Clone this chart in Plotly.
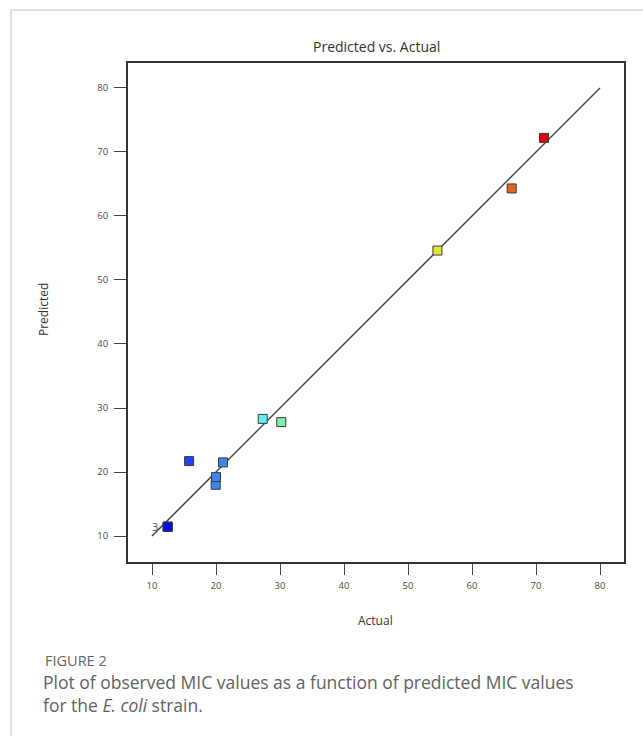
import plotly.graph_objects as go

# Observed (actual) vs model-predicted MIC values for E. coli
actual = [12.45, 12.45, 12.45, 15.8, 19.95, 20.0, 21.1, 27.3, 30.2, 54.6, 66.2, 71.25]
predicted = [11.45, 11.45, 11.45, 21.7, 18.0, 19.2, 21.5, 28.3, 27.8, 54.6, 64.3, 72.2]
tick_values = [10, 20, 30, 40, 50, 60, 70, 80]
ref_line = [10, 80]

# point colours graded from low (blue) to high (red) actual value
point_colors = ["#0a0ae6", "#0a0ae6", "#0a0ae6", "#2244ea", "#3f86ec", "#3f86ec",
                "#3f86ec", "#62f0f0", "#80eeae", "#dce834", "#e8641e", "#de0000"]

W, H = 643, 736
left, right, top, bottom = 128, 624, 63, 562

fig = go.Figure()

fig.add_trace(go.Scatter(
    x=ref_line, y=ref_line, mode="lines",
    line=dict(color="#444444", width=1.5), hoverinfo="skip", showlegend=False))

fig.add_trace(go.Scatter(
    x=actual, y=predicted, mode="markers",
    marker=dict(symbol="square", size=9, color=point_colors,
                line=dict(color="#3a3a3a", width=1)),
    showlegend=False))

tick_font = dict(family="Open Sans", size=9.5, color="#4a4a4a")

fig.update_layout(
    width=W, height=H,
    margin=dict(l=0, r=0, t=0, b=0),
    paper_bgcolor="white", plot_bgcolor="white",
    xaxis=dict(domain=[left / W, right / W], range=[6.25, 83.75],
               tickvals=tick_values, ticks="outside", ticklen=11, tickwidth=1,
               tickcolor="#444444", showgrid=False, zeroline=False,
               showline=True, linecolor="#333333", linewidth=2, mirror=True,
               tickfont=tick_font, ticklabelstandoff=3),
    yaxis=dict(domain=[1 - bottom / H, 1 - top / H], range=[5.94, 83.9],
               tickvals=tick_values, ticks="outside", ticklen=12, tickwidth=1,
               tickcolor="#444444", showgrid=False, zeroline=False,
               showline=True, linecolor="#333333", linewidth=2, mirror=True,
               tickfont=tick_font, ticklabelstandoff=4),
)

# card border
fig.add_shape(type="line", xref="paper", yref="paper",
              x0=11 / W, x1=1, y0=1 - 10 / H, y1=1 - 10 / H,
              line=dict(color="#d4d4d4", width=1.5))
fig.add_shape(type="line", xref="paper", yref="paper",
              x0=11 / W, x1=11 / W, y0=0, y1=1 - 10 / H,
              line=dict(color="#d4d4d4", width=1.5))

def paper_text(text, x, y, size, color, family="Open Sans", xanchor="center", angle=0,
               align="center"):
    fig.add_annotation(text=text, xref="paper", yref="paper",
                       x=x / W, y=1 - y / H, xanchor=xanchor, yanchor="middle",
                       showarrow=False, textangle=angle, align=align,
                       font=dict(family=family, size=size, color=color))

paper_text("Predicted vs. Actual", 376, 46, 14, "#333333")
paper_text("Actual", 375, 620, 12, "#333333")
paper_text("Predicted", 43, 310, 12, "#333333", angle=-90)

# replicate count beside the overlapping lowest point
fig.add_annotation(text="3", x=actual[0], y=predicted[0], xref="x", yref="y",
                   xanchor="right", yanchor="middle", xshift=-8, showarrow=False,
                   font=dict(family="Open Sans", size=11, color="#555555"))

paper_text("FIGURE 2", 43, 660, 14.5, "#666666", xanchor="left")
paper_text("Plot of observed MIC values as a function of predicted MIC values"
           "<br>for the <i>E. coli</i> strain.",
           41, 693, 17.5, "#626262", xanchor="left", align="left")

fig.write_html("out.html")
